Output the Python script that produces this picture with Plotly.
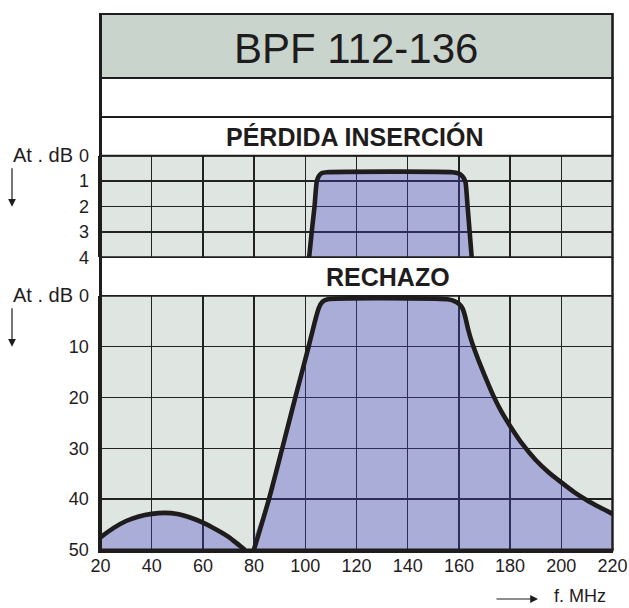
import plotly.graph_objects as go

W, H = 629, 608

# ---------------- data ----------------
FREQ_TICKS = [20, 40, 60, 80, 100, 120, 140, 160, 180, 200, 220]
IL_TICKS = [0, 1, 2, 3, 4]
REJ_TICKS = [0, 10, 20, 30, 40, 50]

# insertion loss (dB) vs frequency (MHz)
il_freq = [101.5, 102.5, 103.6, 104.5, 105.3, 106.5, 108.5, 157.5, 159.8, 161.3, 162.1, 162.6, 163.4, 164.2, 165.0]
il_db = [4.0, 3.0, 2.0, 1.0, 0.8, 0.68, 0.65, 0.65, 0.7, 0.8, 0.92, 1.05, 2.0, 3.0, 4.0]

# rejection (dB) vs frequency (MHz)
rej_freq = [79.9, 85.8, 91.0, 96.1, 101.3, 104.0, 105.3, 106.7, 108.8, 155.5, 158.0, 160.0, 161.5,
            162.5, 163.5, 164.6, 165.8, 167.5, 170.0, 173.4, 176.5, 180.0, 185.0, 190.0, 195.0,
            200.0, 205.0, 210.0, 215.0, 220.0]
rej_db = [50.0, 40.0, 30.0, 20.0, 10.0, 4.6, 2.4, 1.2, 0.7, 0.7, 1.0, 1.6, 2.6,
          4.2, 6.4, 8.4, 10.2, 12.5, 15.6, 19.6, 22.7, 25.6, 29.3, 32.3, 34.7,
          36.7, 38.6, 40.2, 41.6, 42.9]

# low-frequency spurious lobe
hump_freq = [20, 25, 30, 35, 40, 45, 50, 55, 60, 65, 70, 74, 76.5]
hump_db = [47.5, 45.7, 44.3, 43.4, 42.9, 42.7, 42.9, 43.6, 44.6, 45.9, 47.4, 49.0, 50.0]

TITLE = "BPF 112-136"
IL_TITLE = "PÉRDIDA INSERCIÓN"
REJ_TITLE = "RECHAZO"
Y_LABEL = "At . dB"
X_LABEL = "f. MHz"

# ---------------- styling ----------------
FONT = "Liberation Sans, Arial, Helvetica, sans-serif"
INK = "#1f1c1d"
PLOT_BG = "#dfe5e0"
FILL = "rgba(69,68,198,0.35)"   # renders as ~#a9acd7 over the plot background
GRID = "#222222"
TITLE_BG = "#c9d4cc"

def px(x):
    return x / W

def py(y):
    return 1 - y / H

X_L, X_R = 100.5, 612.5
IL_TOP, IL_BOT = 155.7, 257.3
REJ_TOP, REJ_BOT = 295.7, 550.0

fig = go.Figure()


def add_curve(xs, ys, base, xa, ya):
    fx = list(xs) + [xs[-1], xs[0]]
    fy = list(ys) + [base, base]
    fig.add_trace(go.Scatter(x=fx, y=fy, mode="lines", fill="toself", fillcolor=FILL,
                             line=dict(width=0, color="rgba(0,0,0,0)", shape="spline", smoothing=0.6),
                             xaxis=xa, yaxis=ya, hoverinfo="skip", showlegend=False))
    fig.add_trace(go.Scatter(x=xs, y=ys, mode="lines",
                             line=dict(width=4.6, color=INK, shape="spline", smoothing=0.6),
                             xaxis=xa, yaxis=ya, hoverinfo="skip", showlegend=False))


add_curve(hump_freq, hump_db, max(REJ_TICKS), "x", "y")
add_curve(rej_freq, rej_db, max(REJ_TICKS), "x", "y")
add_curve(il_freq, il_db, max(IL_TICKS), "x2", "y2")

tickfont = dict(family=FONT, size=18, color=INK)
common = dict(showgrid=True, gridcolor=GRID, gridwidth=1.3, zeroline=False,
              automargin=False, fixedrange=True)

fig.update_layout(
    width=W, height=H, autosize=False,
    margin=dict(l=0, r=0, t=0, b=0, pad=0, autoexpand=False),
    paper_bgcolor="white", plot_bgcolor=PLOT_BG,
    showlegend=False,
    xaxis=dict(domain=[px(X_L), px(X_R)], range=[FREQ_TICKS[0], FREQ_TICKS[-1]],
               tickvals=FREQ_TICKS, ticktext=[str(v) for v in FREQ_TICKS],
               showline=True, linecolor=INK, linewidth=3, ticks="", ticklabelstandoff=-3,
               tickfont=tickfont, anchor="y", **common),
    yaxis=dict(domain=[py(REJ_BOT), py(REJ_TOP)], range=[max(REJ_TICKS), min(REJ_TICKS)],
               tickvals=REJ_TICKS, ticktext=[str(v) for v in REJ_TICKS],
               showline=True, linecolor=INK, linewidth=3, ticks="outside", ticklen=5,
               tickcolor="rgba(0,0,0,0)", tickfont=tickfont, anchor="x", **common),
    xaxis2=dict(domain=[px(X_L), px(X_R)], range=[FREQ_TICKS[0], FREQ_TICKS[-1]],
                tickvals=FREQ_TICKS, showticklabels=False, matches="x",
                showline=False, ticks="", anchor="y2", **common),
    yaxis2=dict(domain=[py(IL_BOT), py(IL_TOP)], range=[max(IL_TICKS), min(IL_TICKS)],
                tickvals=IL_TICKS, ticktext=[str(v) for v in IL_TICKS],
                showline=True, linecolor=INK, linewidth=3, ticks="outside", ticklen=5,
                tickcolor="rgba(0,0,0,0)", tickfont=tickfont, anchor="x2", **common),
)

shapes = []
shapes.append(dict(type="rect", xref="paper", yref="paper", x0=px(X_L), x1=px(X_R),
                   y0=py(78), y1=py(14), fillcolor=TITLE_BG, line=dict(color=INK, width=2), layer="above"))
shapes.append(dict(type="rect", xref="paper", yref="paper", x0=px(X_L), x1=px(X_R),
                   y0=py(117), y1=py(78), fillcolor="white", line=dict(color=INK, width=2), layer="above"))
shapes.append(dict(type="rect", xref="paper", yref="paper", x0=px(X_L), x1=px(X_R),
                   y0=py(IL_TOP), y1=py(117), fillcolor="white", line=dict(color=INK, width=2), layer="above"))
shapes.append(dict(type="rect", xref="paper", yref="paper", x0=px(X_L), x1=px(X_R),
                   y0=py(REJ_TOP), y1=py(IL_BOT), fillcolor="white", line=dict(color=INK, width=1.6), layer="above"))
shapes.append(dict(type="rect", xref="paper", yref="paper", x0=px(X_L), x1=px(X_R),
                   y0=py(IL_BOT), y1=py(IL_TOP), line=dict(color=INK, width=1.6), layer="above"))
shapes.append(dict(type="rect", xref="paper", yref="paper", x0=px(X_L), x1=px(X_R),
                   y0=py(REJ_BOT), y1=py(REJ_TOP), line=dict(color=INK, width=1.6), layer="above"))
shapes.append(dict(type="line", xref="paper", yref="paper", x0=px(X_L), x1=px(X_L),
                   y0=py(REJ_BOT + 1), y1=py(13), line=dict(color=INK, width=3), layer="above"))
shapes.append(dict(type="line", xref="paper", yref="paper", x0=px(X_R), x1=px(X_R),
                   y0=py(REJ_BOT), y1=py(13), line=dict(color=INK, width=2.2), layer="above"))
shapes.append(dict(type="line", xref="paper", yref="paper", x0=px(X_L - 1), x1=px(X_R + 1),
                   y0=py(REJ_BOT), y1=py(REJ_BOT), line=dict(color=INK, width=3), layer="above"))
fig.update_layout(shapes=shapes)

ann = []
ann.append(dict(text=TITLE, xref="paper", yref="paper", x=px(356), y=py(48), showarrow=False,
                font=dict(family=FONT, size=42, color=INK), xanchor="center", yanchor="middle"))
ann.append(dict(text="<b>" + IL_TITLE + "</b>", xref="paper", yref="paper", x=px(354), y=py(137),
                showarrow=False, font=dict(family=FONT, size=25, color=INK),
                xanchor="center", yanchor="middle"))
ann.append(dict(text="<b>" + REJ_TITLE + "</b>", xref="paper", yref="paper", x=px(388), y=py(277),
                showarrow=False, font=dict(family=FONT, size=25, color=INK),
                xanchor="center", yanchor="middle"))
for ytop in (IL_TOP, REJ_TOP):
    ann.append(dict(text=Y_LABEL, xref="paper", yref="paper", x=px(75), y=py(ytop - 1),
                    showarrow=False, font=dict(family=FONT, size=20, color=INK),
                    xanchor="right", yanchor="middle"))
    ann.append(dict(text="", xref="paper", yref="paper", x=px(12), y=py(ytop + 51),
                    ax=0, ay=-40, axref="pixel", ayref="pixel", showarrow=True,
                    arrowhead=2, arrowsize=1.3, arrowwidth=1.2, arrowcolor=INK))
ann.append(dict(text="", xref="paper", yref="paper", x=px(538), y=py(599),
                ax=-43, ay=0, axref="pixel", ayref="pixel", showarrow=True,
                arrowhead=2, arrowsize=1.3, arrowwidth=1.2, arrowcolor=INK))
ann.append(dict(text=X_LABEL, xref="paper", yref="paper", x=px(552), y=py(596),
                showarrow=False, font=dict(family=FONT, size=18, color=INK),
                xanchor="left", yanchor="middle"))
fig.update_layout(annotations=ann)

fig.write_html("out.html", config={"displayModeBar": False, "staticPlot": True},
               post_script="document.body.style.margin='0';document.body.style.padding='0';"
                           "document.documentElement.style.overflow='hidden';")
